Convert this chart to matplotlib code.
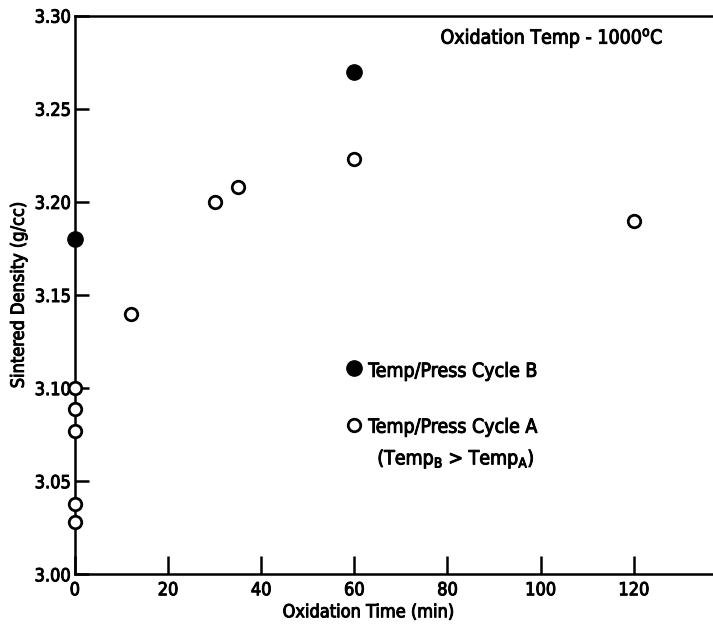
import matplotlib
matplotlib.use("Agg")
import matplotlib.pyplot as plt
import matplotlib.patheffects as pe
from matplotlib import font_manager

# pick a condensed/narrow font if present
cands = []
for f in font_manager.fontManager.ttflist:
    fn = f.fname.lower()
    if ('narrow' in fn or 'condensed' in fn) and 'oblique' not in fn and 'italic' not in fn and 'bold' not in fn:
        cands.append(f)
chosen = None
for pref in ['liberationsansnarrow-regular', 'dejavusanscondensed.ttf', 'condensed-regular', 'condensed.ttf']:
    for f in cands:
        if pref in f.fname.lower():
            chosen = f
            break
    if chosen:
        break
if chosen is None and cands:
    chosen = cands[0]
if chosen is not None:
    fam = [chosen.name]
    stretch = chosen.stretch
else:
    fam = ['DejaVu Sans']
    stretch = 'normal'

plt.rcParams['font.family'] = fam + ['DejaVu Sans']
plt.rcParams['font.stretch'] = stretch
plt.rcParams['mathtext.fontset'] = 'custom'
plt.rcParams['mathtext.rm'] = fam[0]
plt.rcParams['mathtext.it'] = fam[0]
plt.rcParams['mathtext.bf'] = fam[0]

# Data
cycle_b_time = [0, 60]
cycle_b_density = [3.18, 3.27]
cycle_a_time = [0, 0, 0, 0, 0, 12, 30, 35, 60, 120]
cycle_a_density = [3.100, 3.089, 3.077, 3.038, 3.028, 3.140, 3.200, 3.208, 3.223, 3.190]
x_ticks = [0, 20, 40, 60, 80, 100, 120]
y_ticks = [3.00, 3.05, 3.10, 3.15, 3.20, 3.25, 3.30]
y_ticklabels = ['3.00', '3.05', '3.10', '3.15', '3.20', '3.25', '3.30']

fs = 13
fs_text = 14
thick = [pe.withStroke(linewidth=0.7, foreground='black')]
fig = plt.figure(figsize=(7.13, 6.27), dpi=100)
ax = fig.add_axes([0.105, 0.084, 0.895, 0.891])

ax.plot(cycle_a_time, cycle_a_density, 'o', ms=9, mfc='white', mec='black', mew=2.0,
        clip_on=False, zorder=5)
ax.plot(cycle_b_time, cycle_b_density, 'o', ms=11, mfc='black', mec='black',
        clip_on=False, zorder=5)

ax.set_xlim(0, 137)
ax.set_ylim(3.00, 3.30)
ax.set_xticks(x_ticks)
ax.set_yticks(y_ticks)
ax.set_yticklabels(y_ticklabels)
ax.tick_params(axis='x', direction='in', length=13, width=1.8, labelsize=fs, pad=5)
ax.tick_params(axis='y', direction='in', length=10, width=1.8, labelsize=fs, pad=3)
for lab in ax.get_xticklabels() + ax.get_yticklabels():
    lab.set_path_effects(thick)

for s in ['left', 'bottom', 'top']:
    ax.spines[s].set_linewidth(1.8)
ax.spines['right'].set_visible(False)

ax.set_xlabel('Oxidation Time (min)', fontsize=fs, path_effects=thick)
ax.xaxis.set_label_coords(0.46, -0.068)
ax.xaxis.label.set_va('center')
ax.set_ylabel('Sintered Density (g/cc)', fontsize=fs, path_effects=thick)
ax.yaxis.set_label_coords(-0.088, 0.5)
ax.yaxis.label.set_va('center')

ax.text(78.5, 3.288, r'Oxidation Temp - 1000$^{\mathrm{o}}$C', fontsize=fs_text,
        ha='left', va='center', path_effects=thick)

# Legend
ax.plot([60], [3.111], 'o', ms=11, mfc='black', mec='black')
ax.text(63.0, 3.109, 'Temp/Press Cycle B', fontsize=fs_text, ha='left', va='center', path_effects=thick)
ax.plot([60], [3.080], 'o', ms=9, mfc='white', mec='black', mew=2.0)
ax.text(63.0, 3.079, 'Temp/Press Cycle A', fontsize=fs_text, ha='left', va='center', path_effects=thick)
ax.text(98.8, 3.062, r'(Temp$_\mathrm{B}$ > Temp$_\mathrm{A}$)', fontsize=fs_text,
        ha='right', va='center', path_effects=thick)

fig.savefig('out.png', dpi=100)
